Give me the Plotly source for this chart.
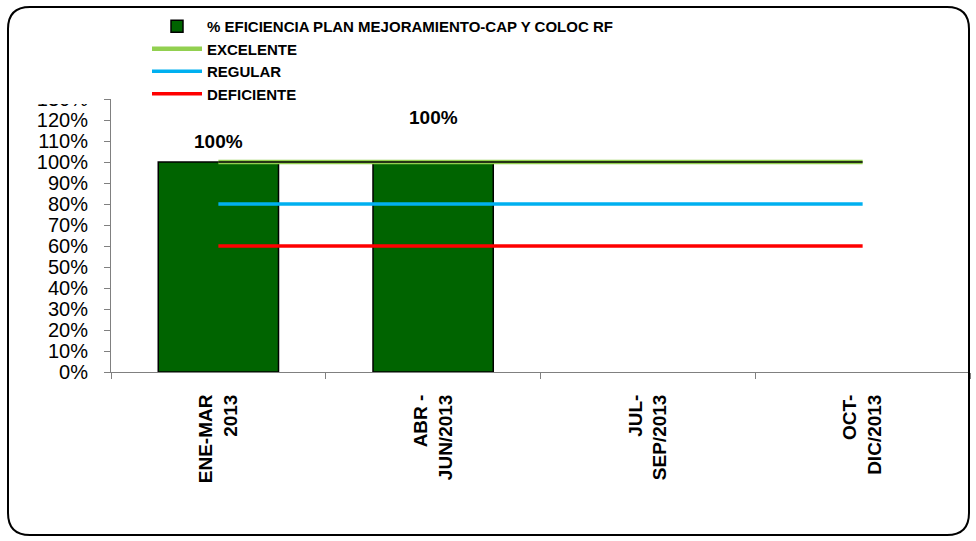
import plotly.graph_objects as go

categories = ["ENE-MAR<br>2013", "ABR -<br>JUN/2013", "JUL-<br>SEP/2013", "OCT-<br>DIC/2013"]
eficiencia = [1.0, 1.0, None, None]
excelente = [1.0, 1.0, 1.0, 1.0]
regular = [0.8, 0.8, 0.8, 0.8]
deficiente = [0.6, 0.6, 0.6, 0.6]
y_ticks = [0.0, 0.1, 0.2, 0.3, 0.4, 0.5, 0.6, 0.7, 0.8, 0.9, 1.0, 1.1, 1.2, 1.3]

FONT = "Arial, 'Liberation Sans', sans-serif"
W, H = 976, 541
L, R, T, B = 111, 6, 99, 169
pw, ph = W - L - R, H - T - B

def px_x(p):
    return (p - L) / pw

def px_y(p):
    return (H - B - p) / ph

fig = go.Figure()
fig.add_trace(go.Bar(
    x=categories, y=eficiencia, name="% EFICIENCIA PLAN MEJORAMIENTO-CAP Y COLOC RF",
    marker=dict(color="#006400", line=dict(color="#000000", width=1.5)), width=0.56,
))
fig.add_trace(go.Scatter(x=categories, y=excelente, name="EXCELENTE", mode="lines",
                         line=dict(color="#92D050", width=4.5)))
fig.add_trace(go.Scatter(x=categories, y=excelente, name="EXCELENTE", mode="lines", showlegend=False,
                         line=dict(color="#000000", width=1.5), hoverinfo="skip"))
fig.add_trace(go.Scatter(x=categories, y=regular, name="REGULAR", mode="lines",
                         line=dict(color="#00B0F0", width=3.5)))
fig.add_trace(go.Scatter(x=categories, y=deficiente, name="DEFICIENTE", mode="lines",
                         line=dict(color="#FF0000", width=3.5)))

label_shifts = [21, 45, 0, 0]
for c, v, s in zip(categories, eficiencia, label_shifts):
    if v is None:
        continue
    fig.add_annotation(x=c, y=v, text=f"<b>{v:.0%}</b>", showarrow=False,
                       yshift=s, xshift=0, font=dict(family=FONT, size=19, color="#000000"))

# outer rounded border
x0, x1, y0, y1, r = 8, 969, 7, 535, 22
path = (f"M {px_x(x0 + r)} {px_y(y0)} L {px_x(x1 - r)} {px_y(y0)} "
        f"Q {px_x(x1)} {px_y(y0)} {px_x(x1)} {px_y(y0 + r)} "
        f"L {px_x(x1)} {px_y(y1 - r)} Q {px_x(x1)} {px_y(y1)} {px_x(x1 - r)} {px_y(y1)} "
        f"L {px_x(x0 + r)} {px_y(y1)} Q {px_x(x0)} {px_y(y1)} {px_x(x0)} {px_y(y1 - r)} "
        f"L {px_x(x0)} {px_y(y0 + r)} Q {px_x(x0)} {px_y(y0)} {px_x(x0 + r)} {px_y(y0)} Z")
fig.add_shape(type="path", path=path, xref="paper", yref="paper",
              line=dict(color="#000000", width=2), layer="above")
# partially hidden top tick label like the original
fig.add_shape(type="rect", xref="paper", yref="paper",
              x0=px_x(20), x1=px_x(100), y0=px_y(104), y1=px_y(85),
              fillcolor="#FFFFFF", line=dict(width=0), layer="above")

fig.update_layout(
    width=W, height=H,
    margin=dict(l=L, r=R, t=T, b=B),
    paper_bgcolor="#FFFFFF", plot_bgcolor="#FFFFFF",
    font=dict(family=FONT, color="#000000"),
    showlegend=True,
    legend=dict(x=px_x(147), y=px_y(10), xanchor="left", yanchor="top",
                font=dict(family=FONT, size=15, color="#000000", weight="bold"),
                bgcolor="rgba(0,0,0,0)", tracegroupgap=0, itemwidth=50,
                traceorder="normal"),
    bargap=0.44,
)
fig.update_xaxes(
    type="category", tickangle=-90, tickson="boundaries", ticks="outside", ticklen=6,
    tickcolor="#808080", showline=True, linecolor="#808080", linewidth=1,
    showgrid=False, range=[-0.5, 3.5], ticklabelstandoff=14,
    tickfont=dict(family=FONT, size=19, color="#000000", weight="bold"),
)
fig.update_yaxes(
    range=[0, 1.3], tickvals=y_ticks, tickformat=".0%", ticks="outside", ticklen=6,
    tickcolor="#808080", showline=True, linecolor="#808080", linewidth=1,
    showgrid=False, zeroline=False, ticklabelstandoff=12,
    tickfont=dict(family=FONT, size=20, color="#000000"),
)

fig.write_html("out.html", config={"displayModeBar": False},
               post_script="document.body.style.margin='0px';")
